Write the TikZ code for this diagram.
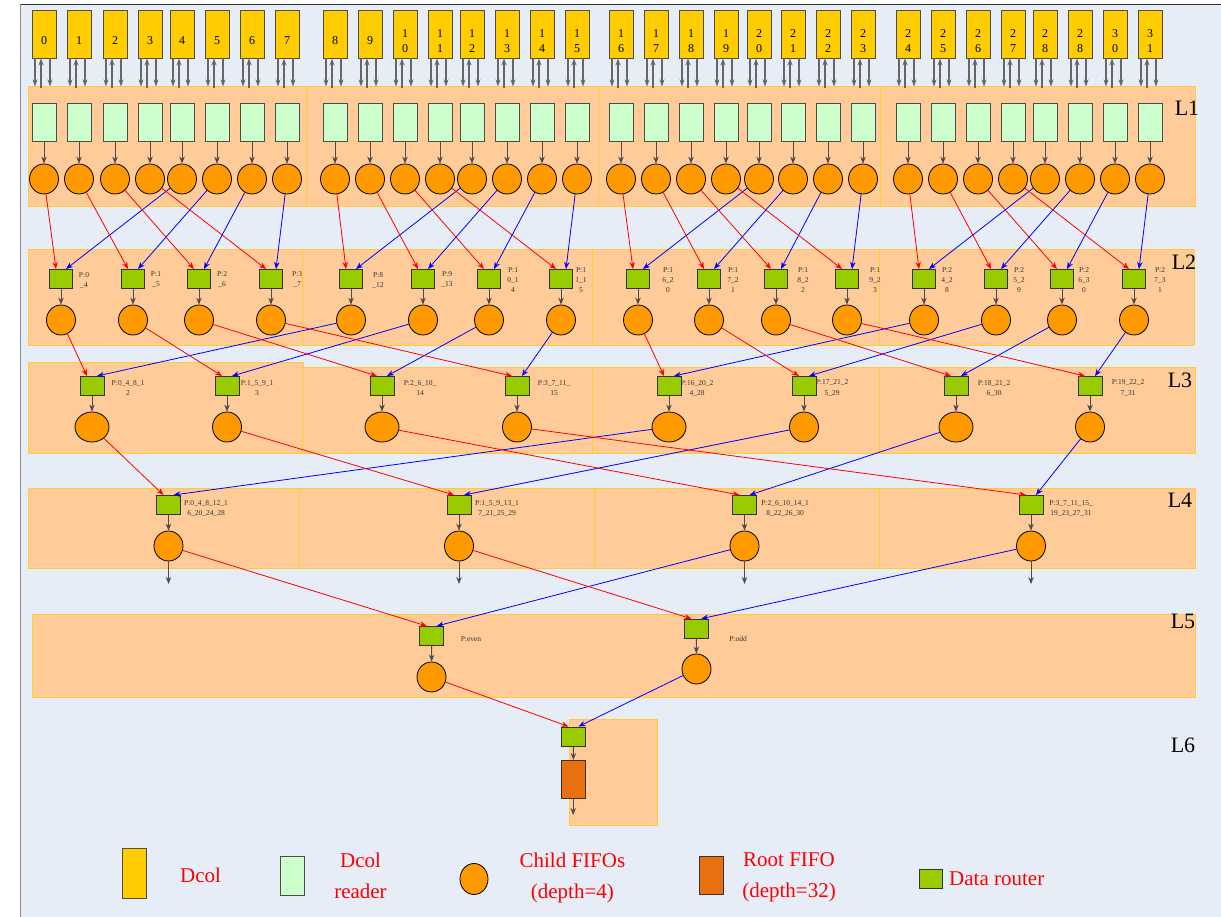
\documentclass[tikz,border=0pt]{standalone}
\usepackage{fontspec}
\setmainfont{Liberation Serif}
\usetikzlibrary{shapes.geometric,arrows.meta,calc}
\definecolor{bgblue}{HTML}{E7EDF7}
\definecolor{dcolY}{HTML}{FFCC00}
\definecolor{readerG}{HTML}{CCFFCC}
\definecolor{fifoO}{HTML}{FF9900}
\definecolor{routerG}{HTML}{99CC00}
\definecolor{rootO}{HTML}{E8700F}
\definecolor{regionF}{HTML}{FFCC99}
\definecolor{regionB}{HTML}{FFCC33}
\tikzset{
  dcol/.style={draw=black!70, fill=dcolY, minimum width=24pt, minimum height=48pt, inner sep=0pt, line width=0.9pt},
  dtext/.style={font=\fontsize{12}{15}\selectfont, align=center, inner sep=0pt},
  reader/.style={draw=black!70, fill=readerG, minimum width=24pt, minimum height=38pt, inner sep=0pt, line width=0.9pt},
  fifo/.style={ellipse, draw=black, fill=fifoO, minimum width=29pt, minimum height=30pt, inner sep=0pt, line width=0.8pt},
  router/.style={draw=black!80, fill=routerG, minimum width=23pt, minimum height=19pt, inner sep=0pt, line width=1pt},
  rootf/.style={draw=black!80, fill=rootO, minimum width=24pt, minimum height=38pt, inner sep=0pt, line width=1pt},
  region/.style={draw=regionB, fill=regionF, line width=0.9pt},
  dca/.style={draw=black!60, line width=1.3pt, -{Stealth[length=7pt,width=5pt,fill=black]}},
  blk/.style={draw=black!70, line width=1pt, -{Stealth[length=7pt,width=5.5pt,fill=black]}},
  redl/.style={draw=red, line width=0.8pt, -{Stealth[length=7pt,width=5.5pt]}},
  bluel/.style={draw=blue, line width=0.8pt, -{Stealth[length=7pt,width=5.5pt]}},
  plab/.style={font=\fontsize{7.5}{10}\selectfont, align=center, text=black!80, inner sep=0pt},
  lay/.style={font=\fontsize{22}{24}\selectfont, inner sep=0pt},
  legt/.style={text=red, font=\fontsize{21}{31}\selectfont, align=center, inner sep=0pt}
}
\begin{document}
\begin{tikzpicture}[x=1pt,y=-1pt]
\useasboundingbox (0,0) rectangle (1221,917);
\fill[white] (0,0) rectangle (1221,917);
\fill[bgblue] (20,4) rectangle (1221,917);
\draw[black!80, line width=1pt] (20,4.5) -- (1221,4.5);
\draw[black!45, line width=1pt] (20.5,4) -- (20.5,917);

% regions
\foreach \a/\b in {28/306,306/598,598/880,880/1195} \fill[region] (\a,86) rectangle (\b,206);
\foreach \a/\b in {28/302,302/592,592/879,879/1194} \fill[region] (\a,249) rectangle (\b,345);
\fill[region] (28,362) rectangle (303,453);
\foreach \a/\b in {302/592,592/879,879/1195} \fill[region] (\a,367) rectangle (\b,453);
\foreach \a/\b in {28/299,299/594,594/879,879/1195} \fill[region] (\a,488) rectangle (\b,568);
\fill[region] (32,614) rectangle (1195,697);
\fill[region] (569,719) rectangle (657,825);

% layer labels
\node[lay] (L1) at (1187,108) {L1};
\node[lay] (L2) at (1184,262) {L2};
\node[lay] (L3) at (1180,380) {L3};
\node[lay] (L4) at (1180,500) {L4};
\node[lay] (L5) at (1183,621) {L5};
\node[lay] (L6) at (1183,745) {L6};

% L1: Dcols, readers, child FIFOs
\foreach \x/\t [count=\i from 0] in {44/0,79/1,115/2,150/3,182/4,217/5,252/6,287/7,
  335/8,370/9,405/1\\0,440/1\\1,472/1\\2,507/1\\3,542/1\\4,577/1\\5,
  621/1\\6,656/1\\7,691/1\\8,726/1\\9,759/2\\0,793/2\\1,828/2\\2,863/2\\3,
  908/2\\4,943/2\\5,978/2\\6,1013/2\\7,1045/2\\8,1080/2\\8,1115/3\\0,1150/3\\1}{
  \node[dcol] (d\i) at (\x,34) {};
  \node[dtext] (dt\i) at (\x,41) {\t};
  \node[reader] (rd\i) at (\x,122) {};
  \node[fifo] (c\i) at (\x,179) {};
  \draw[dca] ([xshift=-9pt]d\i.south) -- ++(0,28);
  \draw[dca] ($(d\i.south)+(-3,30)$) -- ([xshift=-3pt]d\i.south);
  \draw[dca] ([xshift=6pt]d\i.south) -- ++(0,28);
  \draw[blk] (rd\i) -- (c\i);
}

% L2
\foreach \x/\lx/\ra/\bl/\t [count=\j from 0] in {
  61/84/0/4/P:0\\\_4, 133/156/1/5/P:1\\\_5, 199/222/2/6/P:2\\\_6, 271/297/3/7/P:3\\\_7,
  351/378/8/12/P:8\\\_12, 423/447/9/13/P:9\\\_13, 489/513/10/14/P:1\\0\_1\\4, 561/581/11/15/P:1\\1\_1\\5,
  638/668/16/20/P:1\\6\_2\\0, 709/733/17/21/P:1\\7\_2\\1, 776/803/18/22/P:1\\8\_2\\2, 847/875/19/23/P:1\\9\_2\\3,
  924/947/24/28/P:2\\4\_2\\8, 996/1019/25/29/P:2\\5\_2\\9, 1062/1084/26/30/P:2\\6\_3\\0, 1134/1160/27/31/P:2\\7\_3\\1}{
  \node[router] (q\j) at (\x,279) {};
  \node[fifo] (p\j) at (\x,320) {};
  \node[plab] (ql\j) at (\lx,280) {\t};
  \draw[blk] (q\j) -- (p\j);
  \draw[redl] (c\ra) -- ([xshift=-5pt]q\j.north);
  \draw[bluel] (c\bl) -- ([xshift=5pt]q\j.north);
}

% L3
\foreach \x/\lx/\ra/\bl/\w/\t [count=\j from 0] in {
  92/128/0/4/34/P:0\_4\_8\_1\\2, 227/257/1/5/29/P:1\_5\_9\_1\\3,
  382/420/2/6/34/P:2\_6\_10\_\\14, 517/554/3/7/29/P:3\_7\_11\_\\15,
  669/697/8/12/34/P:16\_20\_2\\4\_28, 804/832/9/13/29/P:17\_21\_2\\5\_29,
  956/994/10/14/34/P:18\_21\_2\\6\_30, 1090/1128/11/15/29/P:19\_22\_2\\7\_31}{
  \node[router, minimum width=24pt] (m\j) at (\x,386) {};
  \node[fifo, minimum width=\w pt] (n\j) at (\x,427) {};
  \node[plab] (ml\j) at (\lx,388) {\t};
  \draw[blk] (m\j) -- (n\j);
  \draw[redl] (p\ra) -- ([xshift=-5pt]m\j.north);
  \draw[bluel] (p\bl) -- ([xshift=5pt]m\j.north);
}

% L4
\foreach \x/\lx/\ra/\bl/\t [count=\j from 0] in {
  168.5/206/0/4/P:0\_4\_8\_12\_1\\6\_20\_24\_28, 459/497/1/5/P:1\_5\_9\_13\_1\\7\_21\_25\_29,
  744.5/785/2/6/P:2\_6\_10\_14\_1\\8\_22\_26\_30, 1031/1071/3/7/P:3\_7\_11\_15\_\\19\_23\_27\_31}{
  \node[router, minimum width=24pt] (u\j) at (\x,505) {};
  \node[fifo] (v\j) at (\x,546) {};
  \node[plab] (ul\j) at (\lx,508) {\t};
  \coordinate (vo\j) at (\x,584);
  \draw[blk] (u\j) -- (v\j);
  \draw[blk] (v\j) -- (vo\j);
  \draw[redl] (n\ra) -- ([xshift=-5pt]u\j.north);
  \draw[bluel] (n\bl) -- ([xshift=5pt]u\j.north);
}

% L5
\node[router, minimum width=24pt] (ev) at (431.7,636) {};
\node[fifo] (evc) at (431.5,677) {};
\node[plab] (evl) at (471,639) {P:even};
\node[router, minimum width=24pt] (od) at (696.3,628.7) {};
\node[fifo] (odc) at (696.5,669) {};
\node[plab] (odl) at (738,639) {P:odd};
\draw[blk] (ev) -- (evc);
\draw[blk] (od) -- (odc);
\draw[redl] (v0) -- ([xshift=-5pt]ev.north);
\draw[bluel] (v2) -- ([xshift=5pt]ev.north);
\draw[redl] (v1) -- ([xshift=-5pt]od.north);
\draw[bluel] (v3) -- ([xshift=5pt]od.north);

% L6
\node[router, minimum width=24pt] (sr) at (573.5,736.5) {};
\node[rootf] (rt) at (573.2,779.5) {};
\coordinate (rto) at (573.2,815);
\draw[blk] (sr) -- (rt);
\draw[blk] (rt) -- (rto);
\draw[redl] (evc) -- ([xshift=-5pt]sr.north);
\draw[bluel] (odc) -- ([xshift=5pt]sr.north);

% legend
\node[dcol, minimum height=50pt] (gd) at (134,873) {};
\node[legt] (gdt) at (200.6,875) {Dcol};
\node[reader, minimum height=38.6pt] (gr) at (292.3,876) {};
\node[legt] (grt) at (360.5,876) {Dcol\\reader};
\node[fifo, minimum width=28pt, minimum height=31pt] (gf) at (474,879) {};
\node[legt] (gft) at (572.4,878) {Child FIFOs\\(depth=4)};
\node[rootf] (gro) at (711.7,875) {};
\node[legt] (grot) at (789,877.5) {Root FIFO\\(depth=32)};
\node[router] (grr) at (930.5,879) {};
\node[legt, anchor=west] (grrt) at (949,879) {Data router};
\end{tikzpicture}
\end{document}
